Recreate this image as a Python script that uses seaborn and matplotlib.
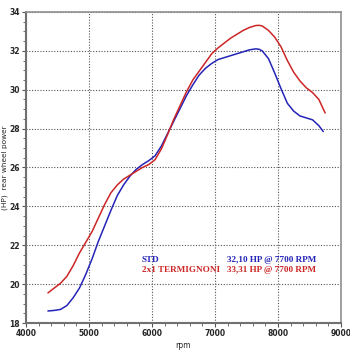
import matplotlib
matplotlib.use("Agg")
import matplotlib.pyplot as plt
import seaborn as sns
import pandas as pd
from matplotlib.ticker import MultipleLocator

rpm_red = [4350, 4450, 4550, 4650, 4750, 4850, 4950, 5050, 5150, 5250, 5350, 5450, 5550, 5650,
           5750, 5850, 5950, 6050, 6150, 6250, 6350, 6450, 6550, 6650, 6750, 6850, 6950, 7050,
           7150, 7250, 7350, 7450, 7550, 7650, 7700, 7750, 7850, 7950, 8050, 8150, 8250, 8350,
           8450, 8550, 8650, 8750]
hp_red = [19.55, 19.8, 20.05, 20.4, 20.95, 21.6, 22.15, 22.7, 23.4, 24.1, 24.7, 25.1, 25.4, 25.6,
          25.8, 26.0, 26.15, 26.4, 26.95, 27.7, 28.5, 29.2, 29.9, 30.5, 30.95, 31.4, 31.85, 32.15,
          32.4, 32.65, 32.85, 33.05, 33.2, 33.3, 33.31, 33.28, 33.05, 32.7, 32.2, 31.5, 30.9, 30.45,
          30.1, 29.85, 29.5, 28.8]

rpm_blue = [4350, 4450, 4550, 4650, 4750, 4850, 4950, 5050, 5150, 5250, 5350, 5450, 5550, 5650,
            5750, 5850, 5950, 6050, 6150, 6250, 6350, 6450, 6550, 6650, 6750, 6850, 6950, 7050,
            7150, 7250, 7350, 7450, 7550, 7650, 7700, 7750, 7850, 7950, 8050, 8150, 8250, 8350,
            8450, 8550, 8650, 8720]
hp_blue = [18.62, 18.65, 18.7, 18.9, 19.3, 19.8, 20.5, 21.3, 22.2, 23.0, 23.8, 24.55, 25.1, 25.55,
           25.9, 26.15, 26.35, 26.6, 27.1, 27.75, 28.4, 29.05, 29.7, 30.25, 30.75, 31.1, 31.35, 31.55,
           31.65, 31.75, 31.85, 31.95, 32.05, 32.1, 32.08, 32.0, 31.6, 30.85, 30.05, 29.3, 28.9, 28.65,
           28.55, 28.45, 28.15, 27.85]

series_names = ["STD", "2x1 TERMIGNONI"]
peak_labels = ["32,10 HP @ 7700 RPM", "33,31 HP @ 7700 RPM"]
x_ticks = [4000, 5000, 6000, 7000, 8000, 9000]
y_ticks = [18, 20, 22, 24, 26, 28, 30, 32, 34]

df = pd.concat([
    pd.DataFrame({"rpm": rpm_blue, "hp": hp_blue, "series": series_names[0]}),
    pd.DataFrame({"rpm": rpm_red, "hp": hp_red, "series": series_names[1]}),
])

sns.set_theme(style="white")
colors = {series_names[0]: "#2424b8", series_names[1]: "#cc2626"}

fig = plt.figure(figsize=(3.5, 3.5), dpi=100)
ax = fig.add_axes([0.074, 0.077, 0.900, 0.889])
sns.lineplot(data=df, x="rpm", y="hp", hue="series", palette=colors, ax=ax,
             legend=False, linewidth=1.1, sort=False, estimator=None)

ax.set_xlim(4000, 9000)
ax.set_ylim(18, 34)
ax.set_xticks(x_ticks)
ax.set_yticks(y_ticks)
ax.xaxis.set_minor_locator(MultipleLocator(200))
ax.yaxis.set_minor_locator(MultipleLocator(0.5))
ax.grid(True, which="major", linestyle=(0, (1, 1.5)), color="#555555", linewidth=0.8)
ax.tick_params(axis="both", which="major", labelsize=5.5, length=3, width=0.8,
               color="#555555", pad=1.5, bottom=True, left=True, direction="out")
ax.tick_params(axis="both", which="minor", length=2, width=0.6, color="#555555",
               bottom=True, left=True, direction="out")
for lab in ax.get_xticklabels() + ax.get_yticklabels():
    lab.set_fontweight("bold")
for s in ["left", "bottom"]:
    ax.spines[s].set_color("#707070")
    ax.spines[s].set_linewidth(1.5)
for s in ["top", "right"]:
    ax.spines[s].set_color("#909090")
    ax.spines[s].set_linewidth(1.2)

ax.set_xlabel("rpm", fontsize=5.5, labelpad=2)
ax.set_ylabel("(HP)  rear wheel power", fontsize=5.3)
ax.yaxis.set_label_coords(-0.058, 0.5)

txt_kw = dict(transform=ax.transAxes, fontsize=6.6, fontweight="bold",
              family="Liberation Serif", va="center")
ax.text(0.367, 0.203, series_names[0], color="#2424b8", **txt_kw)
ax.text(0.639, 0.203, peak_labels[0], color="#2424b8", **txt_kw)
ax.text(0.367, 0.170, series_names[1], color="#cc2626", **txt_kw)
ax.text(0.639, 0.170, peak_labels[1], color="#cc2626", **txt_kw)

fig.savefig("out.png", dpi=100)
